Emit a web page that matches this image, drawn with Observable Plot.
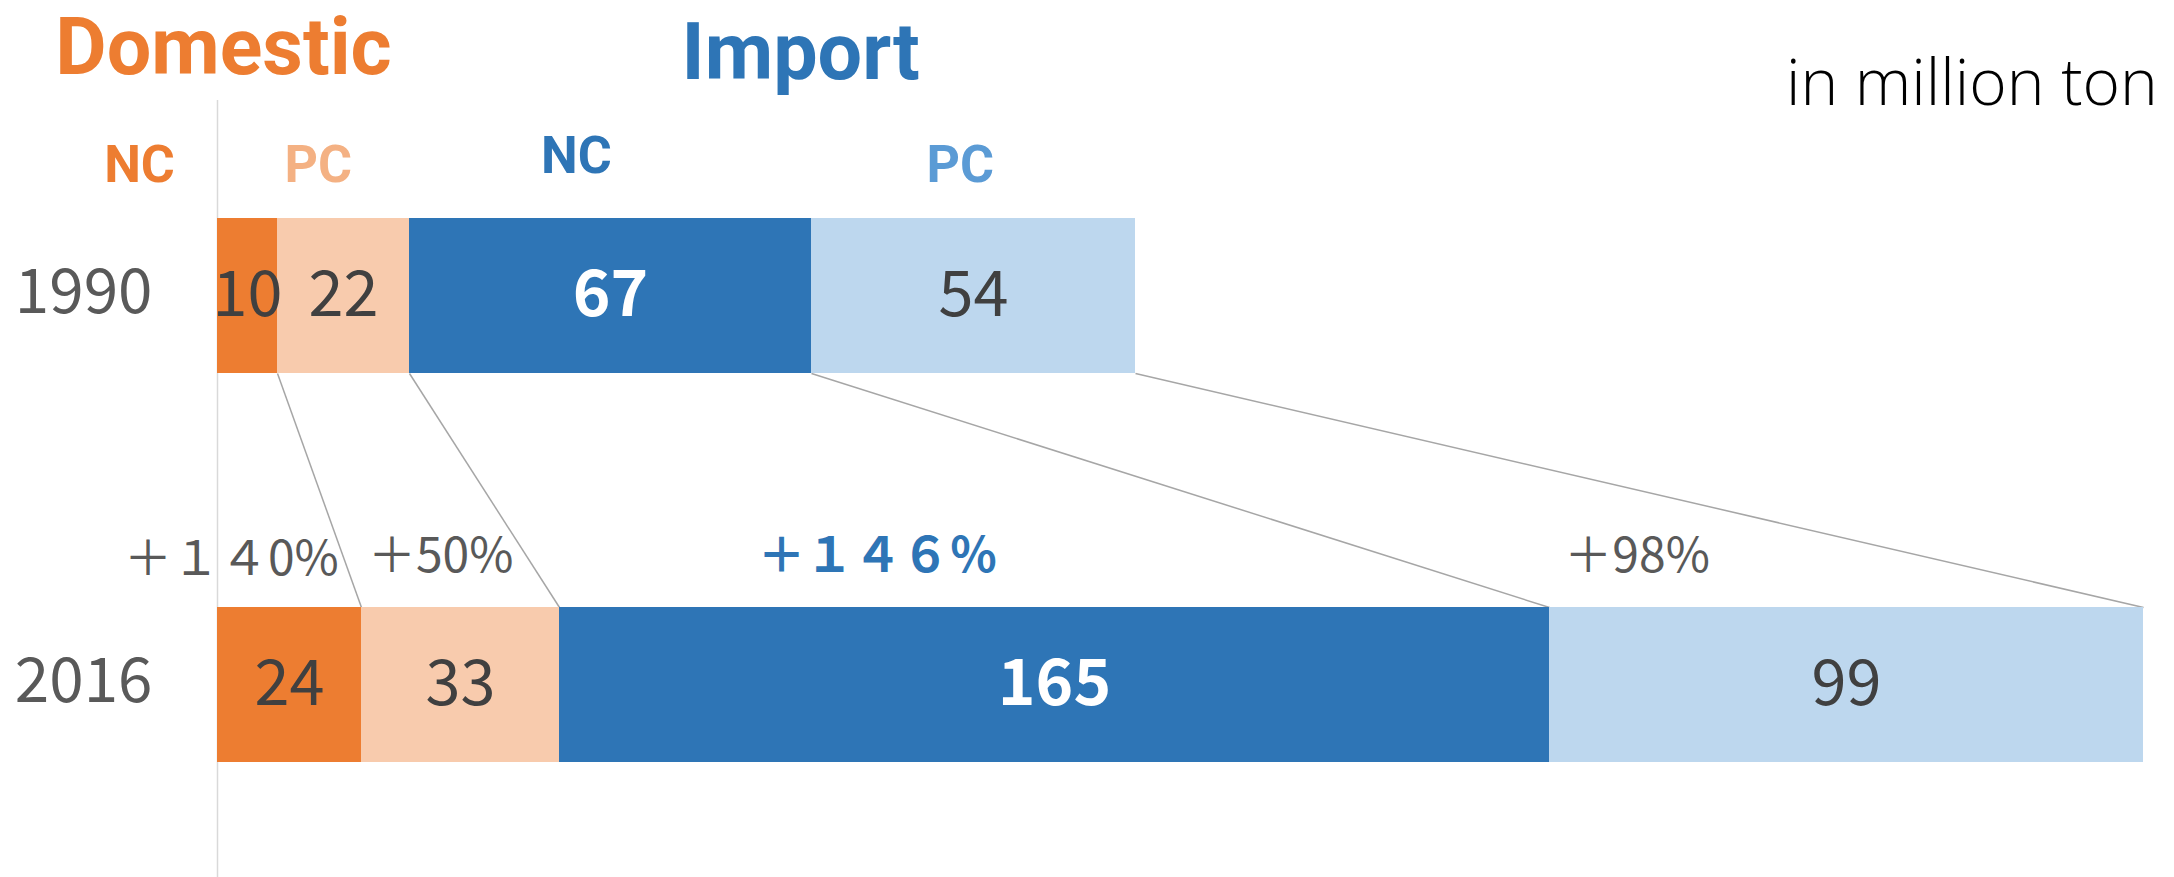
<!DOCTYPE html>
<html>
<head>
<meta charset="utf-8">
<script src="https://cdn.jsdelivr.net/npm/d3@7"></script>
<script src="https://cdn.jsdelivr.net/npm/@observablehq/plot@0.6"></script>
<style>
  html, body { margin: 0; padding: 0; background: #fff; }
</style>
</head>
<body>
<div id="chart"></div>
<script>
// ---------- data ----------
const years = ["1990", "2016"];
const segments = ["Domestic NC", "Domestic PC", "Import NC", "Import PC"];
const values1990 = [10, 22, 67, 54];
const values2016 = [24, 33, 165, 99];
const changeLabels = ["＋１４0%", "＋50%", "＋１４６％", "＋98%"];
const groupLabels = ["Domestic", "Import"];
const segmentLabels = ["NC", "PC", "NC", "PC"];
const unitLabel = "in million ton";

// ---------- styling / layout ----------
const barColors = ["#ED7D31", "#F8CBAD", "#2E75B6", "#BDD7EE"];
const labelColors = ["#ED7D31", "#F4B183", "#2E75B6", "#5B9BD5"];
const groupColors = ["#ED7D31", "#2E75B6"];
const FONT = "'Noto Sans CJK JP', 'Noto Sans', sans-serif";
const HEAD_FONT = "Roboto, 'Noto Sans', sans-serif";

// annotation anchors expressed in the x data units (million tons)
const segLabelAnchor = [-13, 16.8, 59.8, 123.8];
const segLabelY = [165, 165, 156, 165];
const groupAnchor = [1.0, 97.2];
const groupY = [48, 53];
const changeAnchor = [2.3, 37.2, 110, 236.6];
const changeY = [559, 556, 556, 556];
const unitAnchor = 292.4;
const unitY = 84;

// ---------- derived tables ----------
const rows = [];
years.forEach((year, i) => {
  const vals = i === 0 ? values1990 : values2016;
  segments.forEach((segment, j) => rows.push({year, segment, value: vals[j]}));
});
const cum1990 = d3.cumsum(values1990);
const cum2016 = d3.cumsum(values2016);
const links = segments.map((segment, j) => ({segment, from: cum1990[j], to: cum2016[j]}));
const maxTotal = Math.max(d3.sum(values1990), d3.sum(values2016));

const segLabelRows = segmentLabels.map((t, j) => ({t, x: segLabelAnchor[j], dy: segLabelY[j], c: labelColors[j]}));
const groupRows = groupLabels.map((t, j) => ({t, x: groupAnchor[j], dy: groupY[j], c: groupColors[j]}));
const changeRows = changeLabels.map((t, j) => ({t, x: changeAnchor[j], dy: changeY[j], j}));

const textAt = (data, opts) =>
  data.map(d => Plot.text([d], {x: "x", text: "t", frameAnchor: "top", lineAnchor: "middle",
    dy: d.dy, fill: d.c, fontFamily: FONT, ...opts}));

const chart = Plot.plot({
  width: 2174,
  height: 877,
  marginLeft: 217,
  marginRight: 31,
  marginTop: 0,
  marginBottom: 0,
  style: {fontFamily: FONT, background: "#fff", overflow: "visible"},
  x: {domain: [0, maxTotal], axis: null},
  y: {type: "band", domain: years, range: [217, 762], paddingInner: 0.602, paddingOuter: 0, label: null},
  color: {domain: segments, range: barColors},
  marks: [
    Plot.ruleX([0], {stroke: "#D9D9D9", strokeWidth: 1.5, insetTop: 100}),
    Plot.link(links, {
      x1: "from", x2: "to",
      y1: () => years[0], y2: () => years[1],
      stroke: "#A6A6A6", strokeWidth: 1.5,
      render(index, scales, values, dimensions, context, next) {
        // connect the bottom edge of the first bar to the top edge of the second;
        // Plot shifts band positions by half a bandwidth, so compensate for it.
        const ys = scales.y;
        let bw = 0;
        if (typeof ys.bandwidth === "function") bw = ys.bandwidth();
        else if (scales.scales && scales.scales.y) bw = scales.scales.y.bandwidth;
        const n = values.x1.length;
        const y1 = new Float64Array(n).fill(ys(years[0]) + bw / 2);
        const y2 = new Float64Array(n).fill(ys(years[1]) - bw / 2);
        return next(index, scales, {...values, y1, y2}, dimensions, context);
      }
    }),
    Plot.barX(rows, Plot.stackX({x: "value", y: "year", fill: "segment"})),
    Plot.text(rows, Plot.stackX({
      x: "value", y: "year",
      text: d => d.segment === "Import NC" ? "" : String(d.value),
      fill: "#404040", fontSize: 63, fontFamily: FONT
    })),
    Plot.text(rows, Plot.stackX({
      x: "value", y: "year",
      text: d => d.segment === "Import NC" ? String(d.value) : "",
      fill: "#FFFFFF", fontSize: 64, fontWeight: "bold", fontFamily: FONT
    })),
    Plot.axisY({tickSize: 0, tickPadding: 65, fontSize: 62, color: "#595959", label: null, fontFamily: FONT, dy: -3}),
    ...textAt(groupRows, {fontSize: 79, fontWeight: "bold", fontFamily: HEAD_FONT}),
    ...textAt(segLabelRows, {fontSize: 52, fontWeight: "bold", fontFamily: HEAD_FONT}),
    ...textAt(changeRows.filter(d => d.j !== 2), {fontSize: 48, fill: "#595959"}),
    ...textAt(changeRows.filter(d => d.j === 2), {fontSize: 48, fill: "#2E75B6", fontWeight: "bold"}),
    Plot.text([{t: unitLabel, x: unitAnchor}], {x: "x", text: "t", frameAnchor: "top", lineAnchor: "middle",
      dy: unitY, fill: "#000", fontSize: 64, fontWeight: 300, fontFamily: "'Open Sans', 'Noto Sans', sans-serif"})
  ]
});
document.getElementById("chart").appendChild(chart);
</script>
</body>
</html>
